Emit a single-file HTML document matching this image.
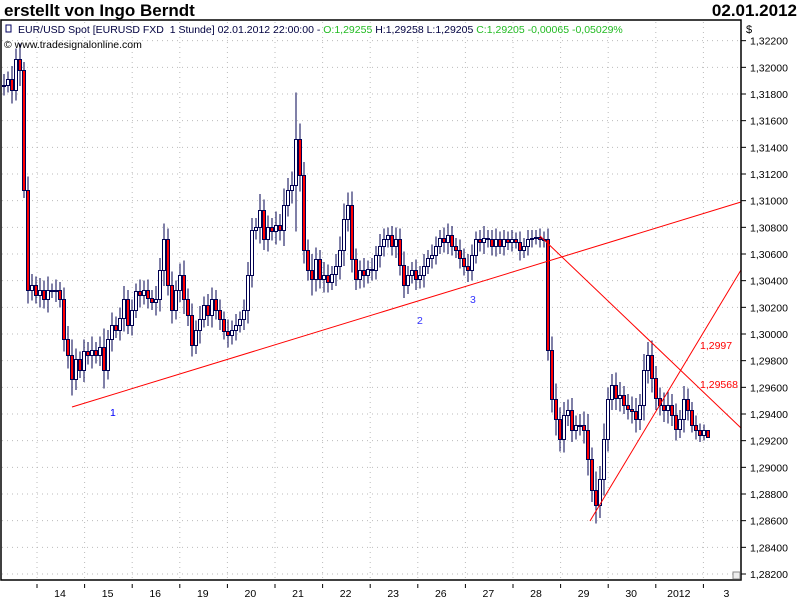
<!DOCTYPE html>
<html><head><meta charset="utf-8"><style>
body{margin:0;background:#fff;}
svg{display:block;font-family:"Liberation Sans",sans-serif;}
</style></head><body>
<svg id="chart" width="800" height="600" viewBox="0 0 800 600">
<rect x="0" y="0" width="800" height="600" fill="#fff"/>
<text x="4" y="16" font-size="17" font-weight="bold" fill="#000">erstellt von Ingo Berndt</text>
<text x="797" y="16" font-size="17" font-weight="bold" fill="#000" text-anchor="end">02.01.2012</text>
<g id="grid"></g>
<g id="candles" shape-rendering="crispEdges"></g>
<g id="lines"></g>
<rect x="1" y="20" width="740" height="560" fill="none" stroke="#000" stroke-width="1.5"/>
<g id="yaxis"></g>
<g id="xaxis"></g>
<text x="746" y="33" font-size="11" fill="#000">$</text>
<text x="18" y="33" font-size="10.5" fill="#000040">EUR/USD Spot [EURUSD FXD&#160; 1 Stunde] 02.01.2012 22:00:00 - <tspan fill="#22bb22">O:1,29255</tspan> H:1,29258 L:1,29205 <tspan fill="#22bb22">C:1,29205 -0,00065 -0,05029%</tspan></text>
<text x="4" y="48" font-size="10.5" fill="#000">© www.tradesignalonline.com</text>
<rect x="6" y="25" width="5" height="7" fill="none" stroke="#000060"/>
<rect x="733" y="572" width="7" height="7" fill="#eee" stroke="#888"/>
</svg>
<script>
const closes=[1.3187,1.3191,1.3183,1.3206,1.3198,1.3108,1.3033,1.3037,1.3029,1.3033,1.3026,1.3033,1.3032,1.3033,1.3026,1.2996,1.2984,1.2966,1.2981,1.2973,1.2987,1.2984,1.2988,1.2984,1.2990,1.2973,1.2996,1.3007,1.3003,1.3012,1.3026,1.3007,1.3018,1.3032,1.3029,1.3033,1.3027,1.3024,1.3026,1.3048,1.3071,1.3037,1.3018,1.3033,1.3044,1.3026,1.3014,1.2992,1.3003,1.3011,1.3022,1.3014,1.3026,1.3018,1.3011,1.3002,1.2999,1.3003,1.3007,1.3011,1.3018,1.3044,1.3078,1.3080,1.3093,1.3071,1.3080,1.3077,1.3082,1.3078,1.3097,1.3108,1.3112,1.3146,1.3119,1.3063,1.3048,1.3041,1.3056,1.3041,1.3044,1.3039,1.3045,1.3051,1.3063,1.3086,1.3097,1.3056,1.3041,1.3048,1.3044,1.3049,1.3048,1.3059,1.3066,1.3071,1.3074,1.3066,1.3071,1.3052,1.3037,1.3044,1.3048,1.3041,1.3044,1.3051,1.3057,1.3059,1.3066,1.3072,1.3069,1.3074,1.3066,1.3063,1.3057,1.3051,1.3048,1.3059,1.3071,1.3069,1.3072,1.3071,1.3066,1.3071,1.3066,1.3071,1.3069,1.3071,1.3069,1.3063,1.3066,1.3071,1.3072,1.3073,1.3071,1.3071,1.2988,1.2951,1.2936,1.2921,1.2939,1.2943,1.2928,1.2932,1.2932,1.2928,1.2906,1.2883,1.2872,1.2891,1.2921,1.2951,1.2962,1.2952,1.2954,1.2947,1.2944,1.2942,1.2936,1.2947,1.2973,1.2984,1.2967,1.2952,1.2947,1.2943,1.2947,1.2939,1.2929,1.2936,1.2951,1.2943,1.2932,1.2928,1.2924,1.2928,1.2923];
const wicks=[8,6,10,8,12,6,10,8,6,9,7,10,5,8,6,9,10,12,8,6,9,7,10,6,8,14,7,9,6,8,10,7,8,6,9,7,8,6,10,9,12,8,10,7,9,11,8,9,7,10,6,8,9,7,8,6,9,7,8,6,8,10,9,7,12,8,9,7,10,8,12,9,10,35,12,10,8,12,9,7,10,8,6,9,10,12,9,10,8,7,9,6,8,7,9,8,6,7,9,8,10,7,6,8,7,9,6,8,7,6,8,9,7,6,8,7,9,8,6,7,9,6,7,8,6,7,6,7,5,8,6,7,6,5,6,6,8,10,12,9,10,8,9,7,8,10,12,9,14,10,12,9,8,9,10,7,8,9,10,8,12,10,11,9,8,9,10,8,9,7,10,8,6,7,5,4];
const yTicks=[1.282,1.284,1.286,1.288,1.290,1.292,1.294,1.296,1.298,1.300,1.302,1.304,1.306,1.308,1.310,1.312,1.314,1.316,1.318,1.320,1.322];
const dayLabels=["14","15","16","19","20","21","22","23","26","27","28","29","30","2012","3"];
const NS="http://www.w3.org/2000/svg";
function yScale(p){return 334-(p-1.300)/0.000075;}
function xScale(i){return 2+i*4;}
function tickX(k){return 37+k*47.6;}
function mk(tag,attrs,parent){const e=document.createElementNS(NS,tag);for(const k in attrs)e.setAttribute(k,attrs[k]);parent.appendChild(e);return e;}
const grid=document.getElementById('grid'),cg=document.getElementById('candles'),lg=document.getElementById('lines'),ya=document.getElementById('yaxis'),xa=document.getElementById('xaxis');
yTicks.forEach(t=>{const y=yScale(t);
const g=mk('line',{x1:2,x2:740,y1:y,y2:y,stroke:'#bbb','stroke-dasharray':'1 4'},grid);

const tk=mk('line',{x1:741,x2:746,y1:y,y2:y,stroke:'#000'},ya);

const tx=mk('text',{x:750,y:y+4,'font-size':'10.5',fill:'#000'},ya);tx.textContent=t.toFixed(5).replace('.',',');
});
for(let k=0;k<15;k++){const x=tickX(k);
const g=mk('line',{x1:x,x2:x,y1:22,y2:579,stroke:'#bbb','stroke-dasharray':'1 4'},grid);

const tk=mk('line',{x1:x,x2:x,y1:584,y2:588,stroke:'#000'},xa);

const tx=mk('text',{x:x+23,y:597,'font-size':'10.5',fill:'#000','text-anchor':'middle'},xa);tx.textContent=dayLabels[k];
}
closes.forEach((c,i)=>{const o=i?closes[i-1]:c;const w=wicks[i]*0.0001;
const hi=Math.max(o,c)+w,lo=Math.min(o,c)-w;const x=xScale(i);
const wk=mk('line',{x1:x+2,x2:x+2,y1:yScale(hi),y2:yScale(lo),stroke:'#000050','stroke-width':1},cg);

const top=Math.round(yScale(Math.max(o,c))),h=Math.max(1,Math.round(yScale(Math.min(o,c)))-top);
const b=mk('rect',{x:x+0.5,y:top+0.5,width:3,height:h,fill:c<o?'#ff0000':'#fff',stroke:'#000050','stroke-width':1},cg);
});
[[72,407,741,202],[540,236,741,428],[590,521,741,270]].forEach(l=>{
const e=mk('line',{x1:l[0],y1:l[1],x2:l[2],y2:l[3],stroke:'#ff0000','stroke-width':1},lg);
});
[["1",110,416,'#0000ff'],["2",417,324,'#3333ff'],["3",470,303,'#3333ff'],["1,2997",700,349,'#ff0000'],["1,29568",700,388,'#ff0000']].forEach(t=>{
const e=mk('text',{x:t[1],y:t[2],'font-size':'10.5',fill:t[3]},lg);e.textContent=t[0];
});
</script>
</body></html>
